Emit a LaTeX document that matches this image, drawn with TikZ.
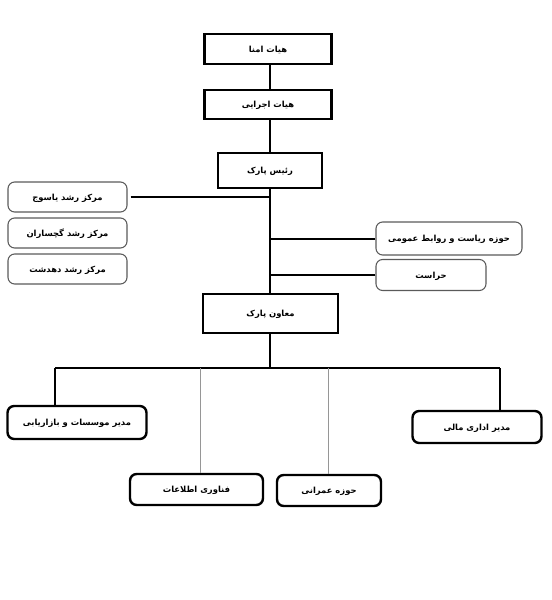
\documentclass[tikz,border=0pt]{standalone}
\usepackage{fontspec}
\usepackage{tikz}
\usetikzlibrary{positioning,calc}
\TeXXeTstate=1
\newfontfamily\arabicfont[Script=Arabic]{DejaVu Sans}
\newcommand{\fa}[1]{\arabicfont\bfseries\beginR #1\endR}
\definecolor{edgegray}{RGB}{90,90,90}
\definecolor{dropgray}{RGB}{150,150,150}
\tikzset{
    mainbox/.style={rectangle, draw=black, line width=2pt, fill=white, font=\fontsize{6.3}{7}\selectfont, inner sep=0pt, text depth=0pt},
    sidebox/.style={rectangle, rounded corners=5pt, draw=edgegray, line width=0.8pt, fill=white, font=\fontsize{6.3}{7}\selectfont, inner sep=0pt, text depth=0pt},
    unitbox/.style={rectangle, rounded corners=5pt, draw=black, line width=1.8pt, fill=white, font=\fontsize{6.3}{7}\selectfont, inner sep=0pt, text depth=0pt},
    link/.style={line width=0.9pt, black},
    thinlink/.style={line width=0.6pt, dropgray},
}
\begin{document}
\begin{tikzpicture}[x=0.75pt,y=-0.75pt]
    \useasboundingbox (0,0) rectangle (552,600);
    % main chain
    \node[mainbox, minimum width=95.25pt, minimum height=22.5pt] (amna) at (268,49) {\fa{هیات امنا}};
    \node[mainbox, minimum width=95.25pt, minimum height=21.75pt] (ejrai) at (268,104.5) {\fa{هیات اجرایی}};
    \node[mainbox, minimum width=78pt, minimum height=26.25pt] (rais) at (270,170.5) {\fa{رئیس پارک}};
    \node[mainbox, minimum width=101.25pt, minimum height=29.25pt] (moaven) at (270.5,313.5) {\fa{معاون پارک}};
    % incubation centres
    \node[sidebox, minimum width=89.25pt, minimum height=22.5pt] (yasuj) at (67.5,197) {\fa{مرکز رشد یاسوج}};
    \node[sidebox, minimum width=89.25pt, minimum height=22.5pt] (gach) at (67.5,233) {\fa{مرکز رشد گچساران}};
    \node[sidebox, minimum width=89.25pt, minimum height=22.5pt] (dehdasht) at (67.5,269) {\fa{مرکز رشد دهدشت}};
    % staff units
    \node[sidebox, minimum width=109.5pt, minimum height=24.75pt] (riasat) at (449,238.5) {\fa{حوزه ریاست و روابط عمومی}};
    \node[sidebox, minimum width=82.5pt, minimum height=23.25pt] (herasat) at (431,275) {\fa{حراست}};
    % departments
    \node[unitbox, minimum width=104.25pt, minimum height=24.75pt] (marketing) at (77,422.5) {\fa{مدیر موسسات و بازاریابی}};
    \node[unitbox, minimum width=96.75pt, minimum height=24pt] (mali) at (477,427) {\fa{مدیر اداری مالی}};
    \node[unitbox, minimum width=99.75pt, minimum height=23.25pt] (it) at (196.5,489.5) {\fa{فناوری اطلاعات}};
    \node[unitbox, minimum width=78pt, minimum height=23.25pt] (omrani) at (329,490.5) {\fa{حوزه عمرانی}};
    % trunk
    \draw[link] (amna.south -| 270,0) -- (ejrai.north -| 270,0);
    \draw[link] (ejrai.south -| 270,0) -- (rais.north -| 270,0);
    \draw[link] (rais.south -| 270,0) -- (moaven.north -| 270,0);
    \draw[link] (yasuj.east) ++(3,0) -- (yasuj.east -| 270,0);
    \draw[link] (riasat.west) ++(0,0.5) -- (270,239);
    \draw[link] (herasat.west) -- (herasat.west -| 270,0);
    % bus to departments
    \coordinate (busL) at (55,368);
    \coordinate (busR) at (500,368);
    \draw[link] (moaven.south -| 270,0) -- (270,368);
    \draw[link] (busL) -- (busR);
    \draw[link] (busL) -- (busL |- marketing.north);
    \draw[link] (busR) -- (busR |- mali.north);
    \draw[thinlink] (200,368) -- (it.north -| 200,0);
    \draw[thinlink] (328,368) -- (omrani.north -| 328,0);
\end{tikzpicture}
\end{document}
